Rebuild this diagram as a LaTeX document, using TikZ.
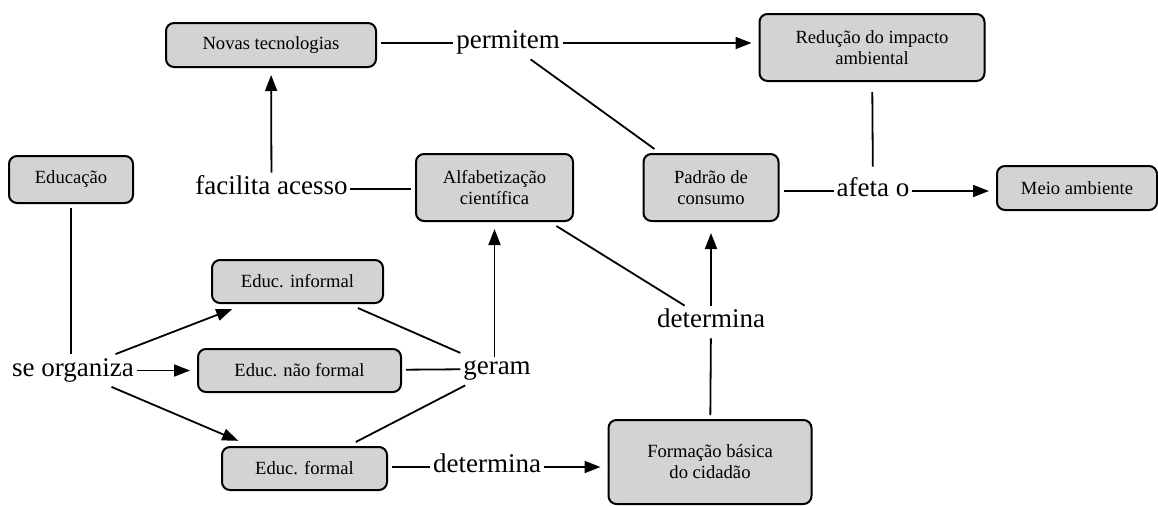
\documentclass[tikz,border=0pt]{standalone}
\usepackage{fontspec}
\setmainfont{Liberation Serif}
\usetikzlibrary{arrows.meta}
\definecolor{boxgray}{RGB}{209,211,212}

\begin{document}
\begin{tikzpicture}[x=0.5pt,y=-0.5pt,line width=0.9pt,
    concept/.style={draw,line width=1pt,fill=boxgray,rounded corners=4pt,align=center,
      font=\fontsize{9.3}{10.6}\selectfont,inner sep=2pt,outer sep=2.5pt},
    linkword/.style={font=\fontsize{13.5}{15}\selectfont,inner sep=1pt,
      text height=9.5pt,text depth=4pt},
    arr/.style={-{Triangle[length=8pt,width=6pt]},shorten >=1.5pt}]
      \useasboundingbox (0,0) rectangle (1158,505);
      % concepts
      \node[concept,minimum width=62pt,minimum height=23.5pt] (edu) at (71,179.5) {Educação};
      \node[concept,minimum width=105pt,minimum height=22pt] (novas) at (271,45) {Novas tecnologias};
      \node[concept,minimum width=112.5pt,minimum height=33.5pt] (reduc) at (872,47.5) {Redução do impacto\\ambiental};
      \node[concept,minimum width=78.5pt,minimum height=33.5pt] (alfa) at (494.5,187.5) {Alfabetização\\científica};
      \node[concept,minimum width=67.5pt,minimum height=33.5pt] (padrao) at (711,187.5) {Padrão de\\consumo};
      \node[concept,minimum width=80pt,minimum height=22pt] (meio) at (1077,188) {Meio ambiente};
      \node[concept,minimum width=85.5pt,minimum height=21.5pt] (informal) at (297.5,281.5) {Educ. informal};
      \node[concept,minimum width=101.5pt,minimum height=21.5pt] (naoformal) at (299.5,370.5) {Educ. não formal};
      \node[concept,minimum width=82.5pt,minimum height=21.5pt] (formal) at (304.5,468.5) {Educ. formal};
      \node[concept,minimum width=101.5pt,minimum height=42pt] (formacao) at (710,462) {Formação básica\\do cidadão};
      % linking words
      \node[linkword] (permitem) at (508,43) {permitem};
      \node[linkword] (facilita) at (271.5,189) {facilita acesso};
      \node[linkword] (afeta) at (873,191) {afeta o};
      \node[linkword] (seorg) at (73,370.5) {se organiza};
      \node[linkword] (geram) at (497,369) {geram};
      \node[linkword] (detA) at (711,322) {determina};
      \node[linkword] (detB) at (487,467) {determina};
      % connectors
      \draw (novas.east |- permitem) -- (permitem);
      \draw[arr] (permitem) -- (permitem -| reduc.west);
      \draw (permitem) -- ([xshift=8pt]padrao.north west);
      \draw[arr] (facilita) -- (novas);
      \draw (alfa.west |- facilita) -- (facilita);
      \draw[shorten <=3pt,shorten >=4pt] (reduc) -- (afeta);
      \draw (padrao.east |- afeta) -- (afeta);
      \draw[arr] (afeta) -- (afeta -| meio.west);
      \draw (edu) -- (edu |- seorg.north);
      \draw[arr] (seorg) -- ([xshift=14pt]informal.south west);
      \draw[arr] (seorg) -- (naoformal);
      \draw[arr] (seorg) -- ([xshift=12pt]formal.north west);
      \draw (informal) -- (geram);
      \draw (naoformal) -- (geram);
      \draw (formal) -- (geram);
      \draw[arr,shorten <=-2pt] (alfa.south |- geram.north) -- (alfa.south);
      \draw (alfa) -- (detA);
      \draw[arr,shorten >=3.5pt] (detA) -- (padrao);
      \draw (formacao) -- (detA);
      \draw (formal.east |- detB) -- (detB);
      \draw[arr] (detB) -- (detB -| formacao.west);
    \end{tikzpicture}
\end{document}
